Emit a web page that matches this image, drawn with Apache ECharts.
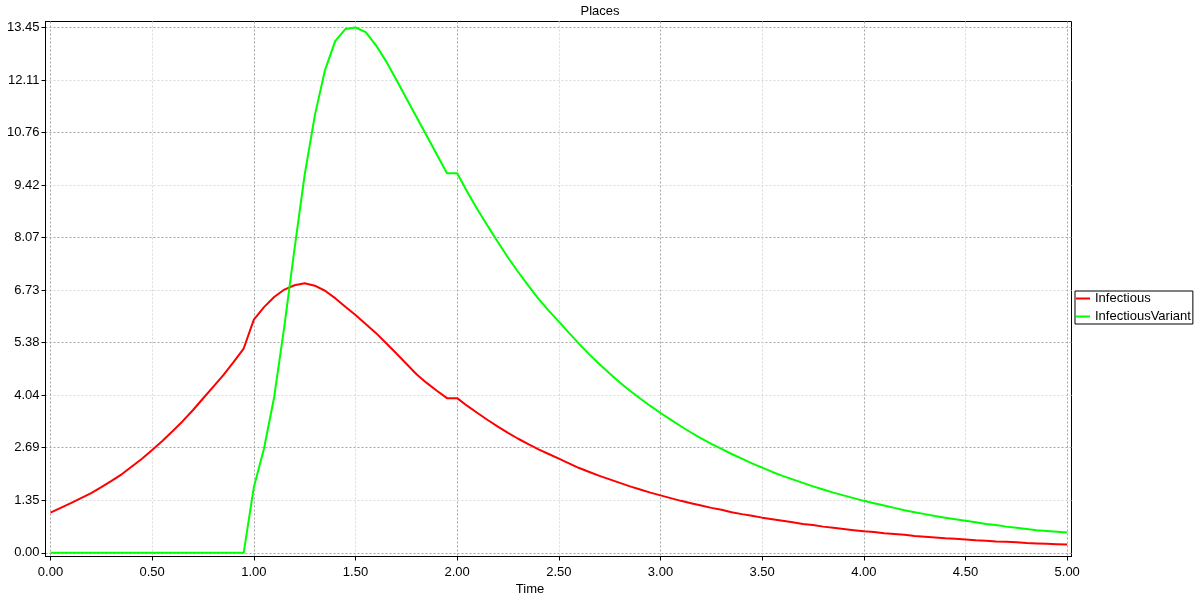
<!DOCTYPE html>
<html>
<head>
<meta charset="utf-8">
<script src="https://cdn.jsdelivr.net/npm/echarts@6/dist/echarts.min.js"></script>
<style>html,body{margin:0;padding:0;background:#fff}#c{width:1200px;height:600px}</style>
</head>
<body>
<div id="c"></div>
<script>
const times = [0.00,0.05,0.10,0.15,0.20,0.25,0.30,0.35,0.40,0.45,0.50,0.55,0.60,0.65,0.70,0.75,0.80,0.85,0.90,0.95,
1.00,1.05,1.10,1.15,1.20,1.25,1.30,1.35,1.40,1.45,1.50,1.55,1.60,1.65,1.70,1.75,1.80,1.85,1.90,1.95,
2.00,2.05,2.10,2.15,2.20,2.25,2.30,2.35,2.40,2.45,2.50,2.55,2.60,2.65,2.70,2.75,2.80,2.85,2.90,2.95,
3.00,3.05,3.10,3.15,3.20,3.25,3.30,3.35,3.40,3.45,3.50,3.55,3.60,3.65,3.70,3.75,3.80,3.85,3.90,3.95,
4.00,4.05,4.10,4.15,4.20,4.25,4.30,4.35,4.40,4.45,4.50,4.55,4.60,4.65,4.70,4.75,4.80,4.85,4.90,4.95,5.00];

const infectious = [1.03,1.15,1.27,1.40,1.53,1.68,1.84,2.01,2.21,2.41,2.63,2.86,3.11,3.37,3.65,3.95,4.25,4.55,4.88,5.23,
5.97,6.29,6.55,6.74,6.85,6.90,6.84,6.71,6.52,6.30,6.09,5.86,5.63,5.37,5.11,4.84,4.57,4.35,4.15,3.96,
3.96,3.76,3.58,3.40,3.23,3.07,2.92,2.78,2.65,2.53,2.41,2.29,2.17,2.07,1.97,1.88,1.79,1.70,1.62,1.54,
1.47,1.40,1.33,1.27,1.21,1.15,1.10,1.04,0.99,0.95,0.90,0.86,0.82,0.78,0.74,0.71,0.67,0.64,0.61,0.58,
0.55,0.53,0.50,0.48,0.46,0.43,0.41,0.39,0.37,0.36,0.34,0.32,0.31,0.29,0.28,0.27,0.25,0.24,0.23,0.22,0.21];

const infectiousVariant = [0,0,0,0,0,0,0,0,0,0,0,0,0,0,0,0,0,0,0,0,
1.68,2.67,3.99,5.80,7.78,9.68,11.20,12.36,13.10,13.41,13.45,13.33,13.00,12.59,12.12,11.64,11.16,10.68,10.20,9.72,
9.72,9.24,8.79,8.37,7.96,7.56,7.19,6.84,6.50,6.20,5.92,5.63,5.35,5.08,4.83,4.59,4.36,4.15,3.95,3.76,
3.58,3.41,3.24,3.08,2.93,2.79,2.66,2.53,2.41,2.29,2.18,2.07,1.97,1.88,1.79,1.70,1.62,1.54,1.47,1.40,
1.33,1.27,1.21,1.15,1.09,1.04,0.99,0.94,0.90,0.86,0.82,0.78,0.74,0.71,0.67,0.64,0.61,0.58,0.56,0.54,0.52];

const xTickValues = [0, 0.5, 1, 1.5, 2, 2.5, 3, 3.5, 4, 4.5, 5];
const xTickLabels = ['0.00','0.50','1.00','1.50','2.00','2.50','3.00','3.50','4.00','4.50','5.00'];
const yTickValues = [0, 1.345, 2.69, 4.035, 5.38, 6.725, 8.07, 9.415, 10.76, 12.105, 13.45];
const yTickLabels = ['0.00','1.35','2.69','4.04','5.38','6.73','8.07','9.42','10.76','12.11','13.45'];

function labelFor(values, labels) {
  return function (v) {
    let best = 0, d = Infinity;
    for (let i = 0; i < values.length; i++) {
      const dd = Math.abs(values[i] - v);
      if (dd < d) { d = dd; best = i; }
    }
    return labels[best];
  };
}

const FONT = '"Liberation Sans", Arial, sans-serif';
const chart = echarts.init(document.getElementById('c'), null, {renderer: 'canvas'});
chart.setOption({
  animation: false,
  backgroundColor: '#fff',
  title: {
    text: 'Places', left: 'center', top: 0, padding: 5,
    textStyle: {fontSize: 13, fontWeight: 'normal', color: '#000', fontFamily: FONT}
  },
  legend: {
    orient: 'vertical', left: 1075, top: 291,
    borderColor: '#000', borderWidth: 1, borderRadius: 0, padding: [1, 2, 1, 1],
    itemWidth: 14, itemHeight: 2, itemGap: 5, icon: 'rect',
    textStyle: {fontSize: 13, color: '#000', fontFamily: FONT},
    data: ['Infectious', 'InfectiousVariant']
  },
  grid: {
    left: 45.5, right: 128.5, top: 21.5, bottom: 43.5,
    show: true, borderColor: '#000', borderWidth: 1, backgroundColor: 'transparent',
    outerBoundsMode: 'none'
  },
  xAxis: {
    type: 'value', min: -0.0246, max: 5.0212,
    name: 'Time', nameLocation: 'middle', nameGap: 25,
    nameTextStyle: {fontSize: 13, color: '#000', fontFamily: FONT, padding: [0, 57, 0, 0]},
    axisLine: {show: true, onZero: false, lineStyle: {color: '#000', width: 1}},
    axisTick: {show: true, length: 4, inside: false, customValues: xTickValues, lineStyle: {color: '#000'}},
    axisLabel: {customValues: xTickValues, formatter: labelFor(xTickValues, xTickLabels), margin: 9,
      fontSize: 13, color: '#000', fontFamily: FONT},
    splitLine: {show: true, lineStyle: {color: ['#a6a6a6', '#d9d9d9'], type: [2, 2], width: 1}},
    minorSplitLine: {show: false}
  },
  yAxis: {
    type: 'value', min: -0.095, max: 13.604,
    axisLine: {show: true, onZero: false, lineStyle: {color: '#000', width: 1}},
    axisTick: {show: true, length: 4, inside: false, customValues: yTickValues, lineStyle: {color: '#000'}},
    axisLabel: {customValues: yTickValues, formatter: labelFor(yTickValues, yTickLabels), margin: 6,
      fontSize: 13, color: '#000', fontFamily: FONT},
    splitLine: {show: true, lineStyle: {color: ['#a6a6a6', '#d9d9d9'], type: [2, 2], width: 1}}
  },
  series: [
    {
      name: 'Infectious', type: 'line', symbol: 'none', showSymbol: false,
      itemStyle: {color: '#ff0000'}, lineStyle: {color: '#ff0000', width: 2},
      data: times.map((t, i) => [t, infectious[i]])
    },
    {
      name: 'InfectiousVariant', type: 'line', symbol: 'none', showSymbol: false,
      itemStyle: {color: '#00ff00'}, lineStyle: {color: '#00ff00', width: 2},
      data: times.map((t, i) => [t, infectiousVariant[i]])
    }
  ]
});
</script>
</body>
</html>
